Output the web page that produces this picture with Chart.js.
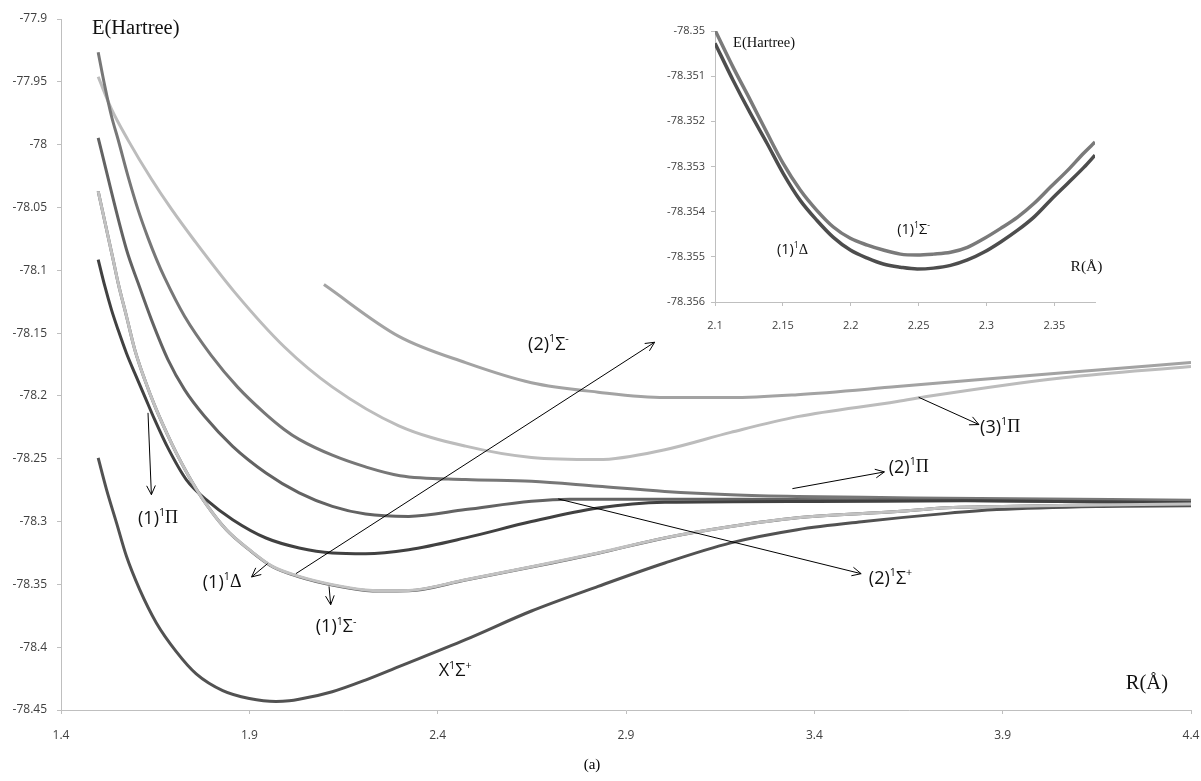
<!DOCTYPE html>
<html>
<head>
<meta charset="utf-8">
<title>Potential energy curves</title>
<script src="https://cdn.jsdelivr.net/npm/chart.js@4.4.1/dist/chart.umd.min.js"></script>
<style>
    body { margin: 0; background: #fff; }
    #wrap { position: relative; width: 1201px; height: 781px; }
    #main { position: absolute; left: 0; top: 0; }
    #inset { position: absolute; left: 640px; top: 0; }
    #caption {
        position: absolute; left: 0; width: 1184px; top: 756px;
        text-align: center; font: 15px "Liberation Serif", serif; color: #000;
    }
</style>
</head>
<body>
<div id="wrap">
    <canvas id="main" width="1201" height="781"></canvas>
    <canvas id="inset" width="480" height="345"></canvas>
    <div id="caption">(a)</div>
</div>
<script>
// ---- main panel: R (Å) and E (Hartree) ----
const rX = [1.4987, 1.5209, 1.5474, 1.5738, 1.609, 1.6532, 1.706, 1.759, 1.8294, 1.90, 1.9706, 2.0058, 2.032, 2.12, 2.21, 2.297, 2.474, 2.649, 2.826, 3.003, 3.178, 3.355, 3.532, 3.752, 3.884, 4.149, 4.4];
const eX = [-78.2494, -78.2746, -78.3011, -78.3277, -78.3542, -78.3807, -78.4035, -78.4212, -78.4345, -78.4408, -78.4432, -78.4427, -78.4415, -78.4355, -78.426, -78.4155, -78.394, -78.3712, -78.3516, -78.333, -78.317, -78.3065, -78.300, -78.2935, -78.2905, -78.288, -78.2875];

const rPi1 = [1.4987, 1.5164, 1.5341, 1.5516, 1.5738, 1.5958, 1.6222, 1.6487, 1.6839, 1.7325, 1.7854, 1.8558, 1.9442, 2.0323, 2.1204, 2.2087, 2.3233, 2.474, 2.649, 2.826, 3.003, 3.4, 3.8, 4.4];
const ePi1 = [-78.0915, -78.1127, -78.1315, -78.1474, -78.166, -78.1819, -78.2003, -78.2189, -78.2414, -78.2666, -78.2826, -78.2985, -78.3131, -78.321, -78.325, -78.3256, -78.3224, -78.313, -78.300, -78.2892, -78.2847, -78.284, -78.2835, -78.285];

const rSm1 = [1.4987, 1.5384, 1.5516, 1.5738, 1.5958, 1.6222, 1.6487, 1.6839, 1.706, 1.75, 1.7854, 1.8384, 1.90, 1.9616, 2.0323, 2.1204, 2.2087, 2.25, 2.3233, 2.474, 2.649, 2.826, 3.003, 3.178, 3.355, 3.62, 3.752, 4.0, 4.4];
const eSm1 = [-78.0371, -78.0915, -78.110, -78.1366, -78.1631, -78.187, -78.2077, -78.2316, -78.2453, -78.2695, -78.2862, -78.3064, -78.3224, -78.3357, -78.3436, -78.3502, -78.3545, -78.355, -78.3548, -78.3463, -78.336, -78.325, -78.313, -78.304, -78.297, -78.292, -78.289, -78.2875, -78.286];
const eDel1 = [-78.0371, -78.0915, -78.110, -78.1366, -78.1631, -78.187, -78.2077, -78.2316, -78.2453, -78.2695, -78.2862, -78.3064, -78.3226, -78.336, -78.344, -78.3506, -78.3548, -78.3553, -78.3551, -78.3465, -78.3362, -78.3252, -78.3131, -78.304, -78.297, -78.292, -78.289, -78.2875, -78.286];

const rSp2 = [1.4987, 1.5738, 1.6045, 1.640, 1.6839, 1.728, 1.781, 1.8558, 1.9442, 2.0323, 2.1204, 2.2087, 2.3233, 2.474, 2.649, 2.75, 3.2, 3.75, 4.4];
const eSp2 = [-77.9946, -78.0835, -78.110, -78.1393, -78.1711, -78.195, -78.2162, -78.2401, -78.2613, -78.2772, -78.2879, -78.294, -78.2959, -78.2905, -78.2839, -78.2822, -78.2822, -78.283, -78.285];

const rPi2 = [1.4987, 1.5164, 1.5341, 1.5516, 1.578, 1.6045, 1.631, 1.653, 1.6751, 1.728, 1.7987, 1.869, 1.9397, 1.9926, 2.0323, 2.1204, 2.2087, 2.30, 2.474, 2.649, 2.826, 3.003, 3.178, 3.355, 3.62, 3.75, 4.4];
const ePi2 = [-77.9264, -77.9535, -77.9774, -77.9959, -78.0252, -78.0517, -78.0742, -78.0909, -78.1059, -78.1366, -78.1677, -78.193, -78.2135, -78.2267, -78.2346, -78.2472, -78.2565, -78.2635, -78.2666, -78.268, -78.272, -78.276, -78.2786, -78.280, -78.281, -78.2815, -78.283];

const rPi3 = [1.4987, 1.5341, 1.578, 1.640, 1.6929, 1.7545, 1.8603, 1.9926, 2.12, 2.297, 2.474, 2.649, 2.826, 3.003, 3.178, 3.355, 3.62, 3.707, 4.061, 4.4];
const ePi3 = [-77.946, -77.9718, -77.9964, -78.0274, -78.0512, -78.0765, -78.1172, -78.1609, -78.1928, -78.2238, -78.240, -78.249, -78.2507, -78.2428, -78.229, -78.2165, -78.2045, -78.2001, -78.1855, -78.1765];

const rSm2 = [2.098, 2.297, 2.474, 2.649, 2.826, 3.003, 3.178, 3.355, 3.62, 4.061, 4.4];
const eSm2 = [-78.1114, -78.1526, -78.1735, -78.1895, -78.197, -78.2013, -78.2013, -78.199, -78.1926, -78.1815, -78.1735];

// ---- inset: minimum of (1)1Δ and (1)1Σ- ----
const rIn = [2.1, 2.1133, 2.126, 2.1384, 2.1502, 2.1628, 2.175, 2.1872, 2.1997, 2.2123, 2.224, 2.2366, 2.249, 2.261, 2.2736, 2.286, 2.298, 2.3105, 2.323, 2.335, 2.3474, 2.36, 2.3718, 2.38];
const eInSm = [-78.34998, -78.3508, -78.35153, -78.35226, -78.35293, -78.35352, -78.35397, -78.35434, -78.35459, -78.35474, -78.35485, -78.35494, -78.35496, -78.35494, -78.3549, -78.35479, -78.3546, -78.35437, -78.35412, -78.35382, -78.35345, -78.35308, -78.3527, -78.35246];
const eInDel = [-78.35027, -78.35109, -78.35182, -78.35249, -78.35315, -78.35375, -78.35419, -78.35457, -78.35485, -78.35503, -78.35516, -78.35523, -78.35527, -78.35525, -78.35519, -78.35507, -78.3549, -78.35467, -78.35441, -78.35412, -78.35374, -78.35337, -78.35302, -78.35275];

// labels [R, E, text, size, serif]; '^' raises the next character
const mainLabels = [
    [1.6045, -78.2977, '(1)^1Π', 18],
    [1.7765, -78.3487, '(1)^1Δ', 18],
    [2.0764, -78.3841, '(1)^1Σ^-', 18],
    [2.64, -78.1592, '(2)^1Σ^-', 18],
    [2.4026, -78.4191, 'X^1Σ^+', 18],
    [3.5447, -78.3455, '(2)^1Σ^+', 18],
    [3.5976, -78.2571, '(2)^1Π', 18],
    [3.84, -78.2252, '(3)^1Π', 18],
    [1.482, -77.9076, 'E(Hartree)', 20.5, true],
    [4.227, -78.429, 'R(Å)', 20.5, true]
];
// arrows [R1, E1, R2, E2], head at the second point
const mainArrows = [
    [1.631, -78.2135, 1.640, -78.2786],
    [1.9484, -78.3335, 1.906, -78.3441],
    [2.1116, -78.3516, 2.116, -78.3662],
    [2.0235, -78.3415, 2.976, -78.1573],
    [2.7201, -78.282, 3.5243, -78.3415],
    [3.3418, -78.2738, 3.586, -78.2605],
    [3.677, -78.2011, 3.837, -78.2228]
];
const insetLabels = [
    [2.1133, -78.35027, 'E(Hartree)', 14.5, true],
    [2.1456, -78.35485, '(1)^1Δ', 14.5],
    [2.2342, -78.35441, '(1)^1Σ^-', 14.5],
    [2.362, -78.35523, 'R(Å)', 15.5, true]
];

const pts = (rs, es) => rs.map((r, i) => ({ x: r, y: es[i] }));

function drawRich(ctx, str, x, y, size, serif) {
    let cx = x;
    for (let i = 0; i < str.length; i++) {
        let ch = str[i], sup = false;
        if (ch === '^') { sup = true; ch = str[++i]; }
        const greek = ch === 'Π' || ch === 'Δ';
        const fs = sup ? size * 0.6 : size;
        ctx.font = fs + 'px ' + (serif || greek ? '"Liberation Serif"' : '"Open Sans"');
        ctx.fillText(ch, cx, sup ? y - size * 0.3 : y);
        cx += ctx.measureText(ch).width;
    }
}

const notes = {
    id: 'notes',
    afterDraw(chart, args, opts) {
        const ctx = chart.ctx, xs = chart.scales.x, ys = chart.scales.y;
        ctx.save();
        ctx.strokeStyle = '#000';
        ctx.fillStyle = '#111';
        ctx.lineWidth = 1;
        (opts.arrows || []).forEach(a => {
            const x1 = xs.getPixelForValue(a[0]), y1 = ys.getPixelForValue(a[1]);
            const x2 = xs.getPixelForValue(a[2]), y2 = ys.getPixelForValue(a[3]);
            const ang = Math.atan2(y2 - y1, x2 - x1), h = 10;
            ctx.beginPath();
            ctx.moveTo(x1, y1);
            ctx.lineTo(x2, y2);
            ctx.moveTo(x2 - h * Math.cos(ang - 0.45), y2 - h * Math.sin(ang - 0.45));
            ctx.lineTo(x2, y2);
            ctx.lineTo(x2 - h * Math.cos(ang + 0.45), y2 - h * Math.sin(ang + 0.45));
            ctx.stroke();
        });
        ctx.textBaseline = 'middle';
        ctx.textAlign = 'left';
        (opts.labels || []).forEach(l => {
            drawRich(ctx, l[2], xs.getPixelForValue(l[0]), ys.getPixelForValue(l[1]), l[3], l[4]);
        });
        ctx.restore();
    }
};

function line(data, color, width) {
    return {
        data: data, borderColor: color, borderWidth: width || 3,
        pointRadius: 0, fill: false, cubicInterpolationMode: 'monotone'
    };
}

function axis(min, max, step, digits, size, opts) {
    return Object.assign({
        type: 'linear', min: min, max: max,
        grid: { display: true, drawOnChartArea: false, drawTicks: true, tickLength: 4, color: '#bfbfbf' },
        border: { display: true, color: '#bfbfbf', width: 1 },
        ticks: {
            stepSize: step, color: '#404040', maxRotation: 0, autoSkip: false,
            font: { family: 'Open Sans', size: size },
            callback: v => String(parseFloat(v.toFixed(digits)))
        }
    }, opts);
}

const common = {
    responsive: false, animation: false,
    plugins: { legend: { display: false }, tooltip: { enabled: false } }
};

// main chart
const mainX = axis(1.4, 4.4, 0.5, 1, 12, {
    afterFit: s => { s.height = 71; s.paddingRight = 0; s.paddingLeft = 0; }
});
mainX.ticks.callback = v => v.toFixed(1);
mainX.ticks.padding = 14;
const mainY = axis(-78.45, -77.9, 0.05, 2, 12, { afterFit: s => { s.width = 61; } });
mainY.ticks.padding = 10;

new Chart(document.getElementById('main'), {
    type: 'line',
    data: {
        datasets: [
            line(pts(rSm1, eSm1), '#c2c2c2'),
            line(pts(rSm1, eDel1), '#5a5a5a'),
            line(pts(rX, eX), '#525252'),
            line(pts(rPi1, ePi1), '#414141'),
            line(pts(rSp2, eSp2), '#636363'),
            line(pts(rPi2, ePi2), '#777777'),
            line(pts(rPi3, ePi3), '#bcbcbc'),
            line(pts(rSm2, eSm2), '#a3a3a3')
        ]
    },
    options: Object.assign({}, common, {
        layout: { padding: { left: 0, top: 19, right: 10, bottom: 0 } },
        scales: { x: mainX, y: mainY },
        plugins: Object.assign({}, common.plugins, { notes: { labels: mainLabels, arrows: mainArrows } })
    }),
    plugins: [notes]
});

// inset chart
const inX = axis(2.1, 2.38, 0.05, 2, 11, {
    bounds: 'data',
    afterBuildTicks: s => { s.ticks = s.ticks.filter(t => t.value < 2.36); },
    afterFit: s => { s.height = 43; }
});
inX.ticks.padding = 13;
const inY = axis(-78.356, -78.35, 0.001, 3, 11, { afterFit: s => { s.width = 75; } });
inY.ticks.padding = 6;

new Chart(document.getElementById('inset'), {
    type: 'line',
    data: {
        datasets: [
            line(pts(rIn, eInSm), '#7a7a7a', 3.5),
            line(pts(rIn, eInDel), '#4d4d4d', 3.5)
        ]
    },
    options: Object.assign({}, common, {
        layout: { padding: { left: 0, top: 31, right: 25, bottom: 0 } },
        scales: { x: inX, y: inY },
        plugins: Object.assign({}, common.plugins, { notes: { labels: insetLabels } })
    }),
    plugins: [notes]
});
</script>
</body>
</html>
